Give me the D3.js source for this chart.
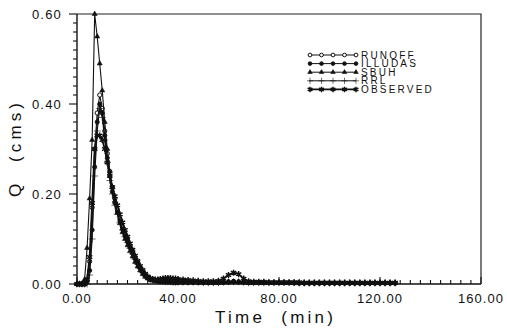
<!DOCTYPE html>
<html>
<head>
<meta charset="utf-8">
<script src="https://cdn.jsdelivr.net/npm/d3@7"></script>
<style>
  body { margin: 0; background: #fff; }
  text { font-family: "Liberation Sans", Arial, sans-serif; fill: #111; }
</style>
</head>
<body>
<div id="chart"></div>
<script>
// time in minutes (1 min steps to 40, then 2 min steps)
var times = [0,1,2,3,4,5,6,7,8,9,10,11,12,13,14,15,16,17,18,19,20,
  21,22,23,24,25,26,27,28,29,30,31,32,33,34,35,36,37,38,39,40,
  42,44,46,48,50,52,54,56,58,60,62,64,66,68,70,72,74,76,78,80,
  82,84,86,88,90,92,94,96,98,100,102,104,106,108,110,112,114,116,118,120,122,124,126];

var runoff = [0,0,0,0,0.01,0.05,0.17,0.30,0.38,0.42,0.39,0.34,0.29,0.25,0.215,0.19,0.165,0.145,0.127,0.112,0.098,
  0.085,0.072,0.060,0.048,0.037,0.028,0.020,0.015,0.011,0.009,0.008,0.007,0.006,0.006,0.005,0.005,0.005,0.005,0.004,0.004,
  0.004,0.004,0.004,0.004,0.003,0.003,0.003,0.003,0.004,0.005,0.006,0.005,0.004,0.003,0.003,0.003,0.003,0.003,0.003,0.003,
  0.003,0.003,0.003,0.002,0.002,0.002,0.002,0.002,0.002,0.002,0.002,0.002,0.002,0.002,0.002,0.002,0.002,0.002,0.002,0.002,0.002,0.002,0.002];

var illudas = [0,0,0,0,0.005,0.03,0.12,0.26,0.36,0.40,0.38,0.33,0.28,0.24,0.205,0.18,0.16,0.14,0.122,0.107,0.094,
  0.081,0.068,0.056,0.045,0.035,0.026,0.019,0.014,0.011,0.009,0.008,0.007,0.006,0.006,0.005,0.005,0.005,0.004,0.004,0.004,
  0.004,0.004,0.004,0.003,0.003,0.003,0.003,0.003,0.004,0.004,0.005,0.004,0.004,0.003,0.003,0.003,0.003,0.003,0.003,0.003,
  0.003,0.003,0.002,0.002,0.002,0.002,0.002,0.002,0.002,0.002,0.002,0.002,0.002,0.002,0.002,0.002,0.002,0.002,0.002,0.002,0.002,0.002,0.002];

var sbuh = [0,0,0,0.01,0.08,0.19,0.32,0.60,0.55,0.49,0.43,0.36,0.30,0.25,0.215,0.185,0.158,0.135,0.115,0.10,0.086,
  0.073,0.061,0.049,0.039,0.030,0.022,0.016,0.012,0.009,0.008,0.007,0.006,0.005,0.005,0.004,0.004,0.004,0.003,0.003,0.003,
  0.003,0.003,0.003,0.003,0.003,0.002,0.002,0.002,0.003,0.004,0.004,0.004,0.003,0.002,0.002,0.002,0.002,0.002,0.002,0.002,
  0.002,0.002,0.002,0.002,0.002,0.002,0.002,0.002,0.002,0.002,0.002,0.002,0.002,0.002,0.002,0.002,0.002,0.002,0.002,0.002,0.002,0.002,0.002];

var rrl = [0,0,0,0,0,0.02,0.10,0.24,0.34,0.39,0.37,0.32,0.27,0.23,0.20,0.175,0.155,0.136,0.12,0.105,0.092,
  0.079,0.067,0.055,0.044,0.034,0.025,0.018,0.013,0.010,0.009,0.008,0.007,0.006,0.006,0.005,0.005,0.005,0.004,0.004,0.004,
  0.004,0.004,0.004,0.004,0.003,0.003,0.003,0.003,0.004,0.005,0.005,0.005,0.004,0.003,0.003,0.003,0.003,0.003,0.003,0.003,
  0.003,0.003,0.003,0.002,0.002,0.002,0.002,0.002,0.002,0.002,0.002,0.002,0.002,0.002,0.002,0.002,0.002,0.002,0.002,0.002,0.002,0.002,0.002];

var observed = [0,0,0,0,0.01,0.06,0.18,0.30,0.33,0.33,0.32,0.30,0.27,0.24,0.215,0.195,0.175,0.155,0.137,0.12,0.105,
  0.09,0.076,0.063,0.051,0.040,0.031,0.023,0.017,0.013,0.011,0.010,0.010,0.011,0.012,0.013,0.013,0.013,0.012,0.012,0.011,
  0.010,0.009,0.008,0.007,0.006,0.006,0.006,0.007,0.012,0.020,0.025,0.022,0.012,0.006,0.005,0.005,0.005,0.004,0.004,0.004,
  0.004,0.004,0.004,0.004,0.003,0.003,0.003,0.003,0.003,0.003,0.003,0.003,0.003,0.003,0.003,0.003,0.003,0.003,0.003,0.003,0.003,0.003,0.003];

var seriesNames = ["RUNOFF", "ILLUDAS", "SBUH", "RRL", "OBSERVED"];
var xTicks = [0, 40, 80, 120, 160];
var yTicks = [0, 0.2, 0.4, 0.6];

var width = 507, height = 331;
var margin = {top: 14, right: 26, bottom: 47, left: 77};

var svg = d3.select("#chart").append("svg")
  .attr("width", width)
  .attr("height", height);

var x = d3.scaleLinear().domain([0, 160]).range([margin.left, width - margin.right]);
var y = d3.scaleLinear().domain([0, 0.6]).range([height - margin.bottom, margin.top]);

var series = [
  {name: seriesNames[0], values: runoff, symbol: d3.symbolCircle, size: 14, fill: "#fff", sw: 1},
  {name: seriesNames[1], values: illudas, symbol: d3.symbolCircle, size: 14, fill: "#111", sw: 0.8},
  {name: seriesNames[2], values: sbuh, symbol: d3.symbolTriangle, size: 11, fill: "#111", sw: 0.6},
  {name: seriesNames[3], values: rrl, symbol: d3.symbolPlus, size: 18, fill: "#111", sw: 0.6},
  {name: seriesNames[4], values: observed, symbol: d3.symbolAsterisk, size: 26, fill: "none", sw: 1.5}
];

var line = d3.line()
  .x(function(d) { return x(d[0]); })
  .y(function(d) { return y(d[1]); });

var plot = svg.append("g");

series.forEach(function(s) {
  var pts = times.map(function(t, i) { return [t, s.values[i]]; });
  plot.append("path")
    .datum(pts)
    .attr("d", line)
    .attr("fill", "none")
    .attr("stroke", "#111")
    .attr("stroke-width", s.name === "OBSERVED" ? 1.8 : 1.1);
  plot.selectAll(null)
    .data(pts)
    .enter()
    .append("path")
    .attr("transform", function(d) { return "translate(" + x(d[0]) + "," + y(d[1]) + ")"; })
    .attr("d", d3.symbol().type(s.symbol).size(s.size))
    .attr("fill", s.fill)
    .attr("stroke", "#111")
    .attr("stroke-width", s.sw);
});

// frame
svg.append("path")
  .attr("d", "M" + x(0) + "," + y(0.6) + "H" + x(160) + "V" + y(0))
  .attr("fill", "none")
  .attr("stroke", "#222")
  .attr("stroke-width", 1.2);

// x axis, ticks pointing up
var xAxis = svg.append("g").attr("transform", "translate(0," + y(0) + ")");
xAxis.append("line").attr("x1", x(0)).attr("x2", x(160)).attr("stroke", "#111").attr("stroke-width", 1.4);
xAxis.selectAll(".minor")
  .data(d3.range(0, 161, 4))
  .enter().append("line")
  .attr("x1", function(d) { return x(d); })
  .attr("x2", function(d) { return x(d); })
  .attr("y1", 0)
  .attr("y2", function(d) { return d % 40 === 0 ? -7 : -4; })
  .attr("stroke", "#111").attr("stroke-width", 1.1);
xAxis.selectAll(".lbl")
  .data(xTicks)
  .enter().append("text")
  .attr("x", function(d) { return x(d); })
  .attr("y", 19)
  .attr("text-anchor", "middle")
  .style("font-size", "13px")
  .style("letter-spacing", "1px")
  .text(function(d) { return d3.format(".2f")(d); });

// y axis, ticks pointing left
var yAxis = svg.append("g").attr("transform", "translate(" + x(0) + ",0)");
yAxis.append("line").attr("y1", y(0)).attr("y2", y(0.6)).attr("stroke", "#111").attr("stroke-width", 1.4);
yAxis.selectAll(".minor")
  .data(d3.range(0, 31).map(function(i) { return i * 0.02; }))
  .enter().append("line")
  .attr("y1", function(d) { return y(d); })
  .attr("y2", function(d) { return y(d); })
  .attr("x1", function(d, i) { return i % 10 === 0 ? -8 : -4; })
  .attr("x2", 0)
  .attr("stroke", "#111").attr("stroke-width", 1.1);
yAxis.selectAll(".lbl")
  .data(yTicks)
  .enter().append("text")
  .attr("x", -15)
  .attr("y", function(d) { return y(d) + 4.5; })
  .attr("text-anchor", "end")
  .style("font-size", "13px")
  .style("letter-spacing", "1.2px")
  .text(function(d) { return d3.format(".2f")(d); });

// axis titles
svg.append("text")
  .attr("x", 215).attr("y", 323)
  .attr("textLength", 118).attr("lengthAdjust", "spacing")
  .style("font-size", "17px")
  .style("white-space", "pre")
  .text("Time  (min)");

svg.append("text")
  .attr("transform", "translate(21,197) rotate(-90)")
  .attr("textLength", 94).attr("lengthAdjust", "spacing")
  .style("font-size", "17px")
  .style("white-space", "pre")
  .text("Q  (cms)");

// legend
var legend = svg.append("g");
series.forEach(function(s, i) {
  var ly = 55 + i * 8.6;
  legend.append("line")
    .attr("x1", 309).attr("x2", 356).attr("y1", ly).attr("y2", ly)
    .attr("stroke", "#111").attr("stroke-width", s.name === "OBSERVED" ? 1.6 : 1);
  legend.selectAll(null)
    .data(d3.range(5))
    .enter().append("path")
    .attr("transform", function(k) { return "translate(" + (310 + k * 11.5) + "," + ly + ")"; })
    .attr("d", d3.symbol().type(s.symbol).size(s.size * 0.8))
    .attr("fill", s.fill)
    .attr("stroke", "#111")
    .attr("stroke-width", s.sw);
  legend.append("text")
    .attr("x", 361).attr("y", ly + 3.6)
    .style("font-size", "10px")
    .style("letter-spacing", "2.2px")
    .text(s.name);
});
</script>
</body>
</html>
